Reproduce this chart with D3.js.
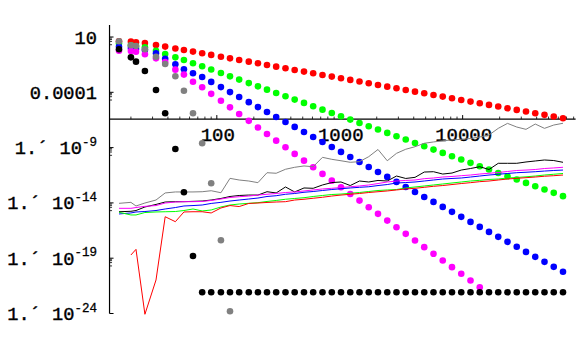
<!DOCTYPE html>
<html><head><meta charset="utf-8">
<script src="https://cdnjs.cloudflare.com/ajax/libs/d3/7.8.5/d3.min.js"></script>
<style>body{margin:0;background:#fff}svg{display:block}</style>
</head><body><svg id="c" width="576" height="356"></svg>
<script>
// sample sizes N (x values)
const nValues = [16,20,22,26,32,38,46,54,64,76,90,108,128,152,182,216,256,304,362,430,512,608,724,862,1024,1218,1448,1722,2048,2436,2896,3444,4096,4870,5792,6888,8192,9742,11586,13778,16384,19484,23170,27554,32768,38968,46340,55108,65536];

// point series, stored as log10 of the plotted error
const redLog10 = [0.61,0.58,0.52,0.46,0.28,0.13,-0.04,-0.18,-0.32,-0.47,-0.62,-0.78,-0.93,-1.08,-1.23,-1.38,-1.53,-1.68,-1.83,-1.98,-2.13,-2.28,-2.43,-2.58,-2.73,-2.88,-3.03,-3.18,-3.34,-3.49,-3.64,-3.79,-3.94,-4.09,-4.24,-4.39,-4.54,-4.69,-4.84,-4.99,-5.14,-5.29,-5.44,-5.59,-5.74,-5.89,-6.04,-6.19,-6.35];
const greenLog10 = [0.43,0.25,0.15,0.07,-0.24,-0.54,-0.84,-1.08,-1.38,-1.65,-1.94,-2.26,-2.56,-2.85,-3.17,-3.46,-3.76,-4.06,-4.36,-4.66,-4.96,-5.26,-5.57,-5.87,-6.17,-6.47,-6.77,-7.07,-7.37,-7.67,-7.97,-8.27,-8.58,-8.88,-9.18,-9.48,-9.78,-10.08,-10.38,-10.68,-10.98,-11.29,-11.59,-11.89,-12.19,-12.49,-12.79,-13.09,-13.39];
const blueLog10 = [0.12,0.0,-0.08,-0.18,-0.47,-0.97,-1.47,-1.92,-2.28,-2.62,-3.06,-3.53,-3.98,-4.42,-4.89,-5.34,-5.78,-6.23,-6.68,-7.13,-7.59,-8.04,-8.49,-8.95,-9.39,-9.85,-10.30,-10.75,-11.20,-11.65,-12.10,-12.56,-13.01,-13.46,-13.91,-14.36,-14.81,-15.26,-15.72,-16.17,-16.62,-17.07,-17.52,-17.97,-18.43,-18.88,-19.33,-19.78,-20.23];
const magentaLog10 = [-0.24,-0.27,-0.33,-0.56,-0.93,-1.26,-1.95,-2.40,-3.05,-3.55,-4.14,-4.77,-5.36,-5.96,-6.58,-7.18,-7.77,-8.37,-8.97,-9.57,-10.18,-10.77,-11.38,-11.99,-12.58,-13.19,-13.79,-14.39,-14.99,-15.60,-16.20,-16.80,-17.40,-18.00,-18.60,-19.21,-19.81,-20.41,-21.01,-21.62,null,null,null,null,null,null,null,null,null];
const blackLog10 = [-0.11,-0.84,-1.23,-2.07,-3.79,-5.90,-9.13,-13.04,-18.80,-22.08,-22.08,-22.08,-22.08,-22.08,-22.08,-22.08,-22.08,-22.08,-22.08,-22.08,-22.08,-22.08,-22.08,-22.08,-22.08,-22.08,-22.08,-22.08,-22.08,-22.08,-22.08,-22.08,-22.08,-22.08,-22.08,-22.08,-22.08,-22.08,-22.08,-22.08,-22.08,-22.08,-22.08,-22.08,-22.08,-22.08,-22.08,-22.08,-22.08];
const grayLog10 = [0.61,0.25,0.18,-0.11,-0.78,-1.44,-2.55,-3.86,-5.90,-8.61,-12.23,-17.38,-23.80,null,null,null,null,null,null,null,null,null,null,null,null,null,null,null,null,null,null,null,null,null,null,null,null,null,null,null,null,null,null,null,null,null,null,null,null];

// line series (log10)
const grayLineLog10 = [-14.04,-13.95,-14.28,-14.01,-13.74,-13.10,-13.01,-13.01,-13.01,-12.99,-12.90,-13.08,-11.78,-11.93,-12.02,-12.17,-11.27,-11.32,-10.96,-10.78,-10.66,-10.73,-9.88,-10.06,-10.19,-10.33,-10.27,-9.82,-9.17,-10.19,-9.52,-9.15,-8.92,-8.61,-8.49,-8.38,-8.31,-8.25,-8.18,-8.04,-7.86,-7.26,-6.81,-7.14,-7.35,-6.87,-7.26,-6.96,-6.80];
const blackLineLog10 = [-14.80,-14.76,-14.69,-14.37,-14.14,-13.92,-13.89,-13.89,-13.86,-13.83,-13.74,-13.60,-13.42,-13.33,-13.29,-13.29,-12.99,-13.10,-12.56,-13.01,-12.65,-12.68,-12.38,-12.16,-12.11,-12.43,-12.02,-12.11,-11.97,-12.02,-11.57,-11.79,-11.69,-11.21,-11.18,-11.39,-11.30,-11.03,-10.89,-10.73,-10.98,-10.42,-10.42,-10.42,-10.30,-10.21,-10.12,-10.17,-10.33];
const magentaLineLog10 = [-14.49,-14.49,-14.42,-14.31,-14.24,-14.01,-13.92,-13.89,-13.89,-13.87,-13.78,-13.65,-13.51,-13.44,-13.38,-13.29,-13.22,-13.15,-13.06,-13.01,-12.92,-12.83,-12.74,-12.68,-12.61,-12.54,-12.47,-12.38,-12.25,-12.11,-12.02,-11.97,-11.93,-11.81,-11.75,-11.66,-11.61,-11.54,-11.48,-11.39,-11.32,-11.25,-11.16,-11.07,-11.03,-10.98,-10.89,-10.84,-10.78];
const blueLineLog10 = [-15.00,-14.91,-14.82,-14.78,-14.69,-14.55,-14.42,-14.28,-14.24,-14.19,-14.05,-13.95,-13.83,-13.74,-13.65,-13.56,-13.42,-13.35,-13.22,-13.15,-13.04,-12.97,-12.88,-12.79,-12.72,-12.65,-12.59,-12.54,-12.43,-12.34,-12.20,-12.16,-12.11,-12.02,-11.93,-11.84,-11.79,-11.75,-11.66,-11.57,-11.48,-11.41,-11.34,-11.27,-11.23,-11.18,-11.12,-11.07,-11.03];
const greenLineLog10 = [-14.85,-15.09,-15.09,-14.87,-14.82,-14.80,-14.78,-14.69,-14.55,-14.73,-14.64,-14.37,-14.19,-14.10,-14.04,-13.98,-13.87,-13.78,-13.67,-13.60,-13.53,-13.42,-13.33,-13.24,-13.20,-13.13,-13.06,-12.97,-12.88,-12.83,-12.79,-12.65,-12.56,-12.47,-12.38,-12.29,-12.20,-12.11,-12.02,-11.96,-11.88,-11.84,-11.75,-11.70,-11.64,-11.57,-11.48,-11.41,-11.34];
const redLineLog10 = [null,-18.71,-18.20,-24.07,-20.97,-15.25,-15.70,-14.82,-14.80,-14.80,-14.91,-14.46,-14.24,-14.33,-14.05,-14.01,-13.96,-13.92,-13.89,-13.74,-13.67,-13.58,-13.49,-13.38,-13.29,-13.22,-13.15,-13.06,-12.99,-12.92,-12.83,-12.74,-12.68,-12.59,-12.50,-12.43,-12.34,-12.25,-12.17,-12.08,-12.02,-11.93,-11.84,-11.78,-11.72,-11.66,-11.59,-11.54,-11.48];

// ticks
const xMajorTicks = [100, 1000, 10000];
const xTickLabels = ["100", "1000", "10000"];
const yMajorTicks = [10, 1e-4, 1e-9, 1e-14, 1e-19, 1e-24];
const yTickLabels = [{m:"10"}, {m:"0.0001"}, {m:"1.\u00B4 10", e:"-9"}, {m:"1.\u00B4 10", e:"-14"}, {m:"1.\u00B4 10", e:"-19"}, {m:"1.\u00B4 10", e:"-24"}];

const svg = d3.select('#c');
const x = d3.scaleLog().domain([16, 65536]).range([119, 563]);
const y = d3.scaleLog().domain([10, 1e-24]).range([37, 313.5]);
const pow = v => Math.pow(10, v);

const xLeft = x(13.4), xRight = x(83000);
const yTop = y(pow(2.09)), yBottom = y(1e-24);
const yCross = y(3.8e-7);

const font = "'Liberation Mono', 'Courier New', monospace";

// axes
svg.append('line').attr('x1', xLeft).attr('x2', xLeft).attr('y1', yTop).attr('y2', yBottom)
  .attr('stroke', '#000').attr('stroke-width', 1.2);
svg.append('line').attr('x1', xLeft).attr('x2', xRight).attr('y1', yCross).attr('y2', yCross)
  .attr('stroke', '#000').attr('stroke-width', 1.2);

// x ticks
const xMinor = [];
[10, 100, 1000, 10000].forEach(d => { for (let k = 2; k <= 9; k++) { const v = d * k; if (v > 13.4 && v < 83000) xMinor.push(v); } });
svg.selectAll('.xmin').data(xMinor).join('line')
  .attr('x1', d => x(d)).attr('x2', d => x(d)).attr('y1', yCross).attr('y2', yCross - 2.5)
  .attr('stroke', '#000').attr('stroke-width', 0.8);
svg.selectAll('.xmaj').data(xMajorTicks).join('line')
  .attr('x1', d => x(d)).attr('x2', d => x(d)).attr('y1', yCross).attr('y2', yCross - 4)
  .attr('stroke', '#000').attr('stroke-width', 1);
svg.selectAll('.xlab').data(xMajorTicks).join('text')
  .attr('x', d => x(d) + 1).attr('y', yCross + 22).attr('text-anchor', 'middle')
  .attr('font-family', font).attr('font-size', 19).attr('fill', '#000')
  .attr('stroke', '#000').attr('stroke-width', 0.4)
  .text((d, i) => xTickLabels[i]);

// y ticks
const yMinor = [];
yMajorTicks.forEach(m => { [0.8, 0.6, 0.4, 0.2].forEach(f => { const v = m * f; if (v >= 1e-24) yMinor.push(v); }); });
svg.selectAll('.ymin').data(yMinor).join('line')
  .attr('x1', xLeft).attr('x2', xLeft + 2.5).attr('y1', d => y(d)).attr('y2', d => y(d))
  .attr('stroke', '#000').attr('stroke-width', 0.8);
svg.selectAll('.ymaj').data(yMajorTicks).join('line')
  .attr('x1', xLeft).attr('x2', xLeft + 4).attr('y1', d => y(d)).attr('y2', d => y(d))
  .attr('stroke', '#000').attr('stroke-width', 1);
const yl = svg.selectAll('.ylab').data(yMajorTicks).join('text')
  .attr('x', 97).attr('y', d => y(d) + 6.5).attr('text-anchor', 'end')
  .attr('font-family', font).attr('font-size', 18.7).attr('fill', '#000')
  .attr('stroke', '#000').attr('stroke-width', 0.4);
yl.each(function(d, i) {
  const t = d3.select(this), lab = yTickLabels[i];
  t.append('tspan').text(lab.m);
  if (lab.e) t.append('tspan').attr('dy', -8.5).attr('font-size', 12.5).attr('stroke-width', 0.3).text(lab.e);
});

// point series helper
function dots(vals, color, r) {
  const data = nValues.map((n, i) => [n, vals[i]]).filter(d => d[1] != null);
  svg.append('g').selectAll('circle').data(data).join('circle')
    .attr('cx', d => x(d[0])).attr('cy', d => y(pow(d[1]))).attr('r', r).attr('fill', color);
}
function path(vals, color) {
  const data = nValues.map((n, i) => [n, vals[i]]);
  const ln = d3.line().defined(d => d[1] != null).x(d => x(d[0])).y(d => y(pow(d[1])));
  svg.append('path').datum(data).attr('d', ln).attr('fill', 'none').attr('stroke', color).attr('stroke-width', 1);
}

dots(redLog10, '#ff0000', 3.3);
dots(greenLog10, '#00ff00', 3.3);
dots(blueLog10, '#0000ff', 3.3);
dots(magentaLog10, '#ff00ff', 3.3);

path(grayLineLog10, '#808080');
path(blackLineLog10, '#000000');
path(magentaLineLog10, '#ff00ff');
path(blueLineLog10, '#0000ff');
path(greenLineLog10, '#00ff00');
path(redLineLog10, '#ff0000');

dots(blackLog10, '#000000', 3.3);
dots(grayLog10, '#808080', 3.3);
</script></body></html>
